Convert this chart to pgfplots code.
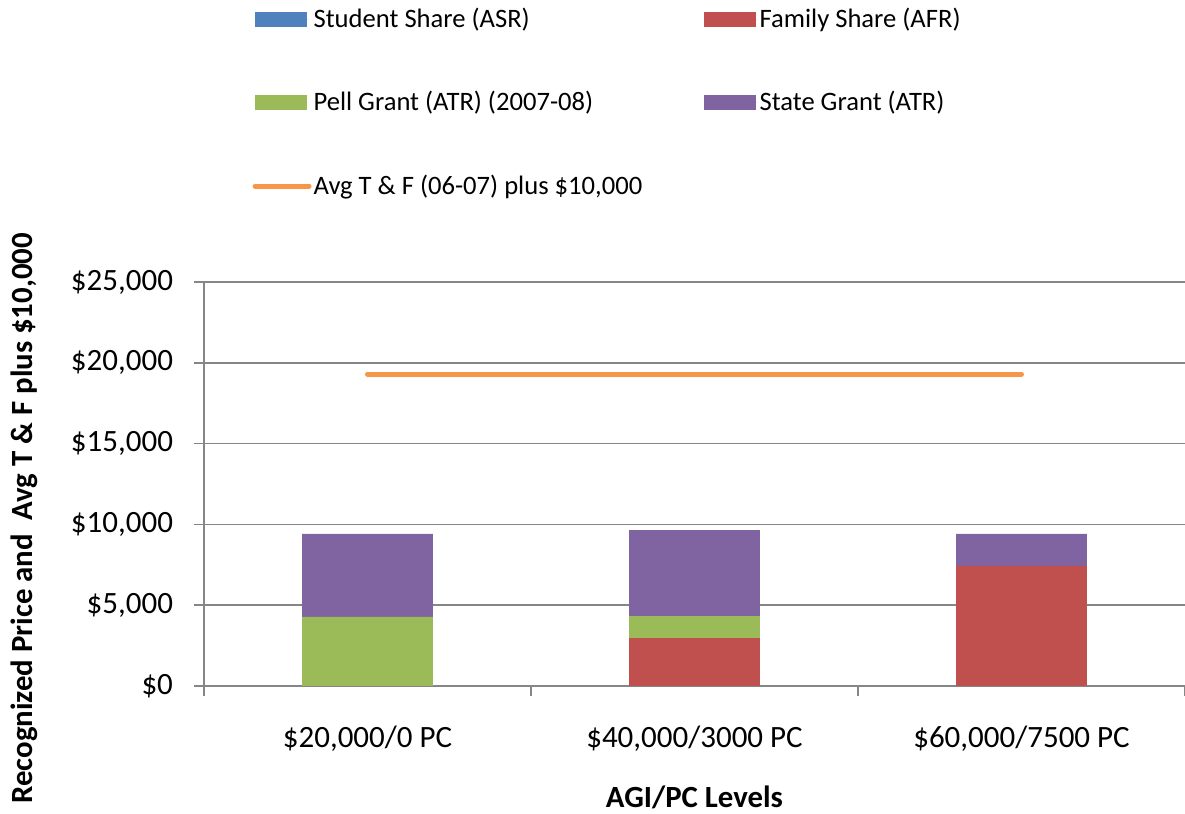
\documentclass[border=0pt]{standalone}
\usepackage{pgfplots}
\pgfplotsset{compat=1.18}
\usepackage{fontspec}
\setmainfont{Carlito}
\definecolor{cStudent}{HTML}{4F81BD}
\definecolor{cFamily}{HTML}{C0504D}
\definecolor{cPell}{HTML}{9BBB59}
\definecolor{cState}{HTML}{8064A2}
\definecolor{cLine}{HTML}{F79646}
\definecolor{cAxis}{RGB}{134,134,134}
\pgfplotsset{
  barleg/.style={legend image code/.code={\fill[##1,draw=none] (0pt,-3.75pt) rectangle (26pt,3.75pt);\path (0pt,0pt) -- (27pt,0pt);}},
  lineleg/.style={legend image code/.code={\draw[##1,line cap=round] (1pt,0pt) -- (25pt,0pt);\path (0pt,0pt) -- (27pt,0pt);}},
}
\begin{document}
\begin{tikzpicture}
\useasboundingbox (0,0) rectangle (592.5pt,407pt);
\begin{axis}[
  at={(102pt,64pt)}, anchor=south west,
  scale only axis, width=490.5pt, height=202pt,
  ybar stacked, bar width=0.4,
  xmin=-0.5, xmax=2.5, ymin=0, ymax=25000,
  scaled y ticks=false,
  xtick={0,1,2},
  xticklabels={{\$20,000/0 PC},{\$40,000/3000 PC},{\$60,000/7500 PC}},
  minor xtick={-0.5,0.5,1.5,2.5},
  ytick={0,5000,10000,15000,20000,25000},
  yticklabels={{\$0},{\$5,000},{\$10,000},{\$15,000},{\$20,000},{\$25,000}},
  major x tick style={draw=none},
  tick align=outside, major tick length=5pt, minor tick length=5pt,
  tick style={cAxis, line width=0.75pt},
  axis x line*=bottom, axis y line*=left,
  axis line style={cAxis, line width=0.75pt},
  ymajorgrids, grid style={cAxis, line width=0.75pt},
  ticklabel style={font=\fontsize{15.5}{18}\selectfont},
  xticklabel style={yshift=-11.5pt},
  yticklabel style={xshift=-7pt},
  xlabel={AGI/PC Levels},
  ylabel={Recognized Price and\ \ Avg T \& F plus \$10,000},
  label style={font=\bfseries\fontsize{15.4}{18}\selectfont},
  xlabel style={at={(axis description cs:0.5,0)}, anchor=center, yshift=-55.5pt},
  ylabel style={at={(axis description cs:-0.1835,0.415)}, anchor=center, rotate=0},
  legend columns=2,
  legend cell align=left,
  legend style={at={(axis description cs:0.043,1.694)}, anchor=north west,
    draw=none, fill=none, font=\fontsize{13.3}{15}\selectfont,
    row sep=28.5pt, nodes={inner sep=1pt}},
]
\addplot[fill=cStudent, draw=none, barleg] coordinates {(0,0) (1,0) (2,0)};
\addlegendentry{\makebox[194pt][l]{Student Share (ASR)}}
\addplot[fill=cFamily, draw=none, barleg] coordinates {(0,0) (1,2970) (2,7430)};
\addlegendentry{Family Share (AFR)}
\addplot[fill=cPell, draw=none, barleg] coordinates {(0,4270) (1,1360) (2,0)};
\addlegendentry{\makebox[194pt][l]{Pell Grant (ATR) (2007-08)}}
\addplot[fill=cState, draw=none, barleg] coordinates {(0,5140) (1,5320) (2,1980)};
\addlegendentry{State Grant (ATR)}
\addplot[cLine, line width=2.5pt, line cap=round, sharp plot, stack plots=false, lineleg] coordinates {(0,19300) (1,19300) (2,19300)};
\addlegendentry{Avg T \& F (06-07) plus \$10,000}
\end{axis}
\end{tikzpicture}
\end{document}
